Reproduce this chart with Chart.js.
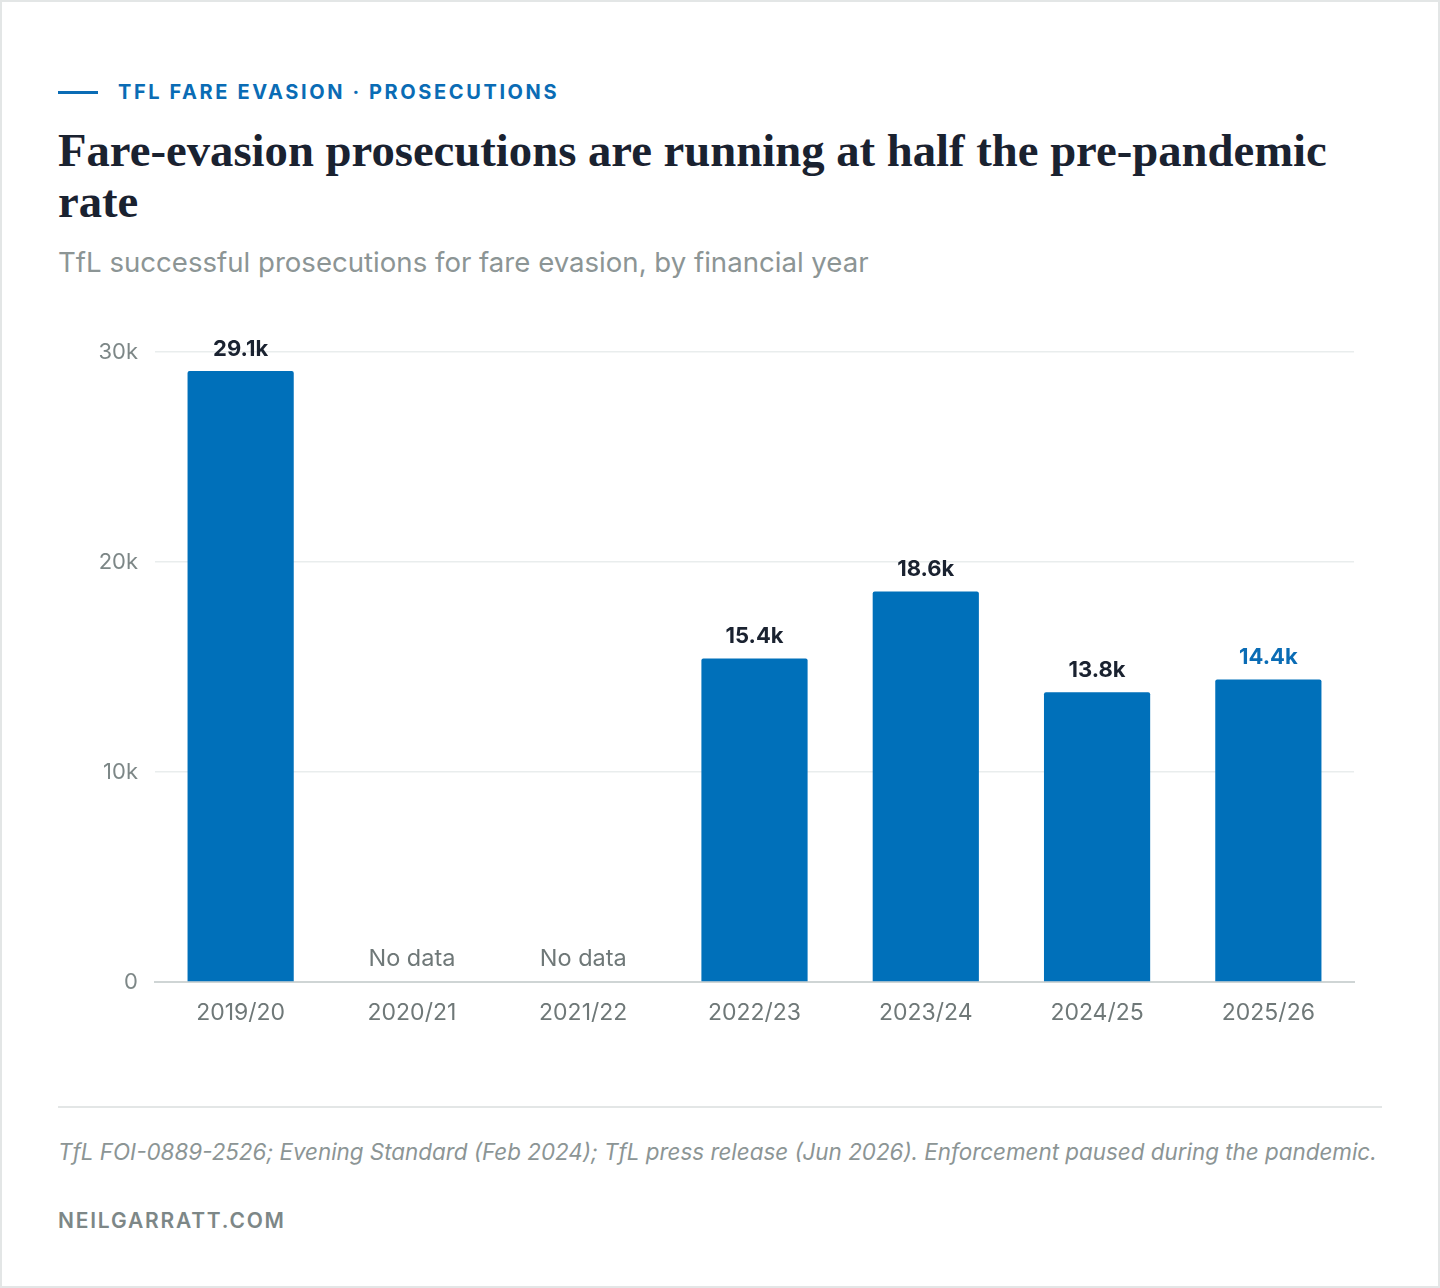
<!DOCTYPE html>
<html>
<head>
<meta charset="utf-8">
<script src="https://cdn.jsdelivr.net/npm/chart.js@4.4.1/dist/chart.umd.min.js"></script>
<style>
  html, body { margin: 0; padding: 0; background: #fff; }
  body { width: 1440px; height: 1288px; position: relative; font-family: Inter, "Noto Sans", sans-serif; }
  .card { position: absolute; left: 0; top: 0; width: 1436px; height: 1284px; border: 2px solid #e3e6e6; }
  .kicker { position: absolute; left: 58px; top: 80px; color: #0a6cb5; font-size: 20px; font-weight: 700; letter-spacing: 2.6px; display: flex; align-items: center; }
  .kicker .rule { width: 40px; height: 3px; background: #0a6cb5; margin-right: 20px; }
  h1 { position: absolute; left: 58px; top: 125px; width: 1310px; margin: 0; font-family: "Liberation Serif", "DejaVu Serif", serif; font-weight: 700; font-size: 46.7px; line-height: 51px; color: #1a2230; }
  .sub { position: absolute; left: 58px; top: 245px; font-size: 27.6px; color: #8c9595; }
  .chart { position: absolute; left: 58px; top: 320px; width: 1324px; height: 722px; }
  .sep { position: absolute; left: 58px; top: 1106px; width: 1324px; height: 2px; background: #e3e6e6; }
  .source { position: absolute; left: 58px; top: 1138px; font-size: 22.4px; font-style: italic; color: #8c9595; }
  .brand { position: absolute; left: 58px; top: 1208px; font-size: 21px; font-weight: 600; letter-spacing: 1.8px; color: #7d8787; }
</style>
</head>
<body>
<div class="card"></div>
<div class="kicker"><span class="rule"></span>TFL FARE EVASION · PROSECUTIONS</div>
<h1>Fare-evasion prosecutions are running at half the pre-pandemic rate</h1>
<div class="sub">TfL successful prosecutions for fare evasion, by financial year</div>
<div class="chart"><canvas id="prosecutions"></canvas></div>
<div class="sep"></div>
<div class="source">TfL FOI-0889-2526; Evening Standard (Feb 2024); TfL press release (Jun 2026). Enforcement paused during the pandemic.</div>
<div class="brand">NEILGARRATT.COM</div>

<script>
const years = ["2019/20", "2020/21", "2021/22", "2022/23", "2023/24", "2024/25", "2025/26"];
const prosecutions = [29100, null, null, 15400, 18600, 13800, 14400];
const yTicks = [0, 10000, 20000, 30000];

const BLUE = "#0070ba";
const LABEL_DARK = "#1a2230";
const GREY = "#6f7878";

function formatK(v) {
  if (v === 0) return "0";
  const k = v / 1000;
  return (Number.isInteger(k) ? k : k.toFixed(1)) + "k";
}

// value labels above bars, "No data" where the year is missing
const barLabels = {
  id: "barLabels",
  afterDatasetsDraw(chart) {
    const ctx = chart.ctx;
    const meta = chart.getDatasetMeta(0);
    const yScale = chart.scales.y;
    ctx.save();
    ctx.textAlign = "center";
    ctx.textBaseline = "bottom";
    meta.data.forEach((bar, i) => {
      const v = prosecutions[i];
      if (v === null) {
        ctx.font = "400 23.5px Inter, sans-serif";
        ctx.fillStyle = GREY;
        ctx.fillText("No data", bar.x, yScale.getPixelForValue(0) - 11);
        return;
      }
      const last = i === prosecutions.length - 1;
      ctx.font = "700 22px Inter, sans-serif";
      ctx.fillStyle = last ? "#0a6cb5" : LABEL_DARK;
      ctx.fillText(formatK(v), bar.x, bar.y - 11);
    });
    ctx.restore();
  }
};

new Chart(document.getElementById("prosecutions"), {
  type: "bar",
  data: {
    labels: years,
    datasets: [
      {
        data: prosecutions,
        backgroundColor: BLUE,
        borderRadius: { topLeft: 2, topRight: 2 },
        borderSkipped: "bottom",
        barPercentage: 0.62,
        categoryPercentage: 1
      }
    ]
  },
  options: {
    responsive: true,
    maintainAspectRatio: false,
    animation: false,
    layout: { padding: { top: 32, right: 28, bottom: 0, left: 0 } },
    plugins: {
      legend: { display: false },
      tooltip: { enabled: false }
    },
    scales: {
      x: {
        grid: { display: false, drawTicks: false },
        border: { color: "#cfd5d5", width: 2 },
        ticks: { color: GREY, font: { family: "Inter", size: 23 }, padding: 17 },
        afterFit(scale) { scale.height = 60; }
      },
      y: {
        min: 0,
        max: 30000,
        afterBuildTicks(scale) { scale.ticks = yTicks.map(v => ({ value: v })); },
        grid: { color: "#e9eded", lineWidth: 1.5, drawTicks: false },
        border: { display: false },
        ticks: {
          color: "#7d8787",
          font: { family: "Inter", size: 22 },
          padding: 17,
          callback: v => formatK(v)
        },
        afterFit(scale) { scale.width = 97; }
      }
    }
  },
  plugins: [barLabels]
});
</script>
</body>
</html>
